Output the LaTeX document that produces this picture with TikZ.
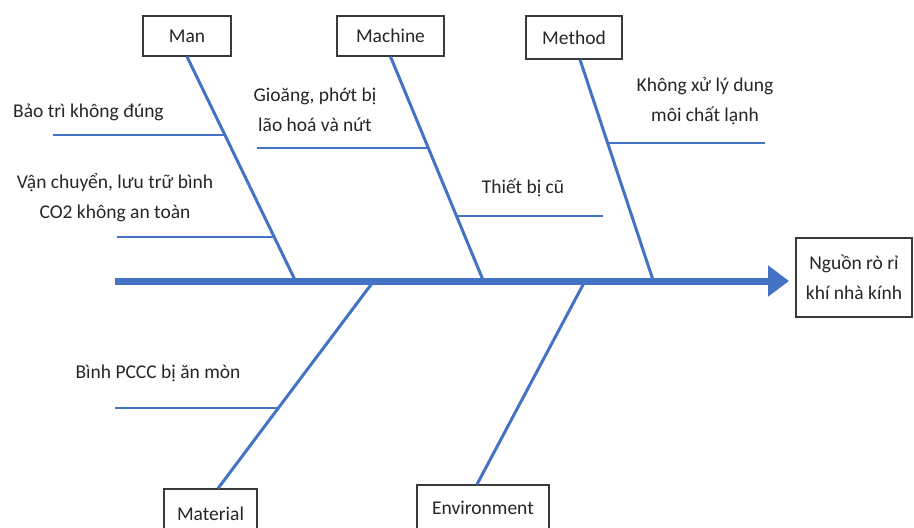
\documentclass[tikz,border=0pt]{standalone}
\usepackage{fontspec}
\setmainfont{Carlito}
\usetikzlibrary{arrows.meta}
\definecolor{bonecol}{HTML}{4472C4}
\definecolor{framecol}{HTML}{3A3A3A}
\newcommand\fishfont{\fontsize{19.5}{30}\selectfont}
\tikzset{
  catbox/.style={draw=framecol, line width=1.2pt, fill=white, inner sep=0pt,
                 font=\fishfont, text=black!85, align=center},
  cause/.style={inner sep=0pt, font=\fishfont, text=black!85, align=center},
  spine/.style={draw=bonecol, line width=7pt,
                -{Triangle[length=21pt,width=30pt]}},
  bone/.style={draw=bonecol, line width=3pt},
  twig/.style={draw=bonecol, line width=1.6pt},
}
\begin{document}
\begin{tikzpicture}[x=1pt,y=-1pt]
  \useasboundingbox (0,0) rectangle (914,528);
  \clip (0,0) rectangle (914,528);

  % category boxes and the effect
  \node[catbox, minimum width=88pt, minimum height=40pt] (man) at (187,36) {Man};
  \node[catbox, minimum width=107pt, minimum height=40pt] (machine) at (390.5,36) {Machine};
  \node[catbox, minimum width=96pt, minimum height=43pt] (method) at (574,37.5) {Method};
  \node[catbox, minimum width=116pt, minimum height=79pt] (effect) at (854,277.5) {Nguồn rò rỉ\\khí nhà kính};
  \node[catbox, minimum width=93pt, minimum height=50pt] (material) at (210.5,514) {Material};
  \node[catbox, minimum width=132pt, minimum height=46pt] (environment) at (483,508) {Environment};

  % spine
  \coordinate (tail) at (115,281);
  \coordinate (tip) at (789,281);
  \coordinate (manJ) at (295,280);
  \coordinate (machJ) at (483,280);
  \coordinate (methJ) at (653,280);
  \coordinate (matJ) at (373,282);
  \coordinate (envJ) at (585,281);

  % main bones
  \draw[bone] (man.south) -- (manJ);
  \draw[bone] (machine.south) -- (machJ);
  \draw[bone] ([xshift=6pt]method.south) -- (methJ);
  \draw[bone] ([xshift=7.5pt]material.north) -- (matJ);
  \draw[bone] ([xshift=-6pt]environment.north) -- (envJ);
  \draw[spine] (tail) -- (tip);

  % cause twigs
  \coordinate (s1a) at (53,135);   \coordinate (s1b) at (225,135);
  \coordinate (s2a) at (117,237);  \coordinate (s2b) at (274,237);
  \coordinate (s3a) at (257,148);  \coordinate (s3b) at (428.5,148);
  \coordinate (s4a) at (456.6,216);\coordinate (s4b) at (603,216);
  \coordinate (s5a) at (607.7,143);\coordinate (s5b) at (765,143);
  \coordinate (s6a) at (115,408);  \coordinate (s6b) at (279,408);
  \draw[twig] (s1a) -- (s1b);
  \draw[twig] (s2a) -- (s2b);
  \draw[twig] (s3a) -- (s3b);
  \draw[twig] (s4a) -- (s4b);
  \draw[twig] (s5a) -- (s5b);
  \draw[twig] (s6a) -- (s6b);

  % cause texts
  \node[cause, anchor=base west] (c1) at (13,117) {Bảo trì không đúng};
  \node[cause] (c2) at (115,197.5) {Vận chuyển, lưu trữ bình\\CO2 không an toàn};
  \node[cause] (c3) at (315,110) {Gioăng, phớt bị\\lão hoá và nứt};
  \node[cause, anchor=base] (c4) at (523,193) {Thiết bị cũ};
  \node[cause] (c5) at (705,101.5) {Không xử lý dung\\môi chất lạnh};
  \node[cause, anchor=base] (c6) at (158,378) {Bình PCCC bị ăn mòn};
\end{tikzpicture}
\end{document}
